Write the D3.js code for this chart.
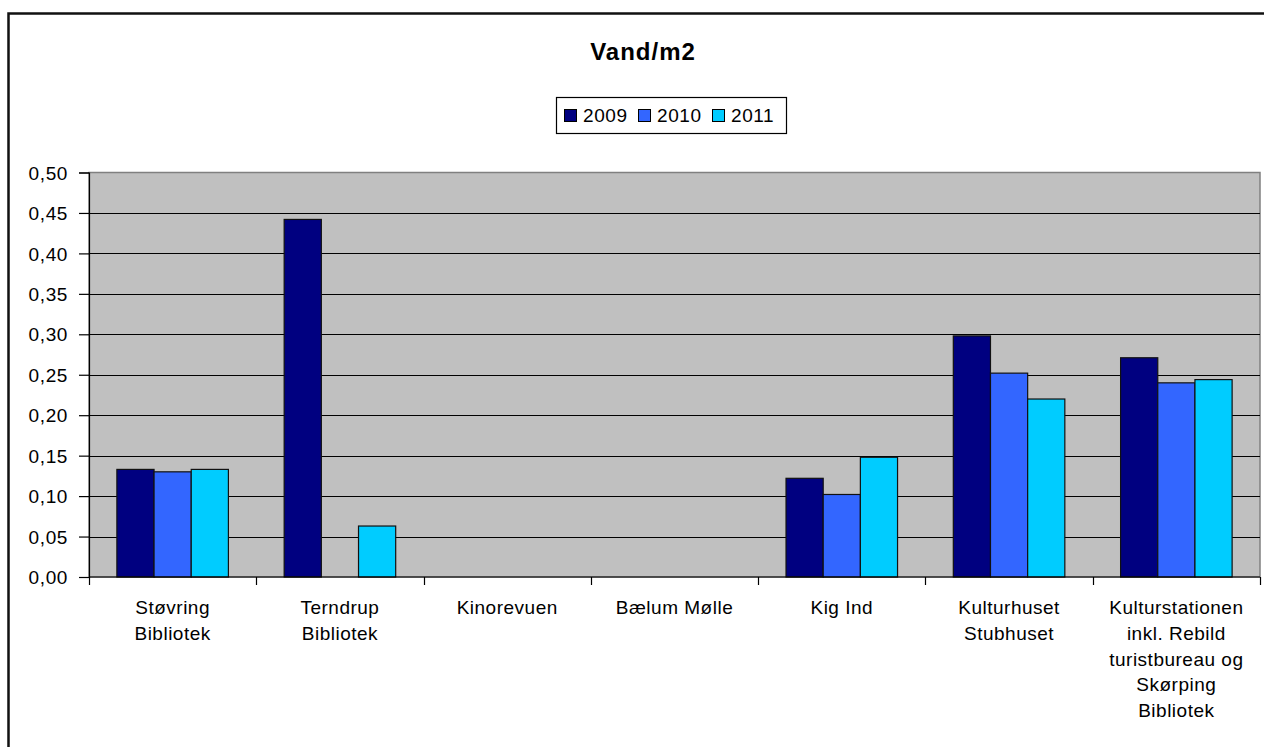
<!DOCTYPE html>
<html>
<head>
<meta charset="utf-8">
<script src="https://cdn.jsdelivr.net/npm/d3@7"></script>
<style>
  body { margin: 0; background: #fff; }
  svg { display: block; font-family: "Liberation Sans", Arial, sans-serif; }
</style>
</head>
<body>
<svg id="chart" width="1264" height="747"></svg>
<script>
// Data
const categories = [
    ["Støvring", "Bibliotek"],
    ["Terndrup", "Bibliotek"],
    ["Kinorevuen"],
    ["Bælum Mølle"],
    ["Kig Ind"],
    ["Kulturhuset", "Stubhuset"],
    ["Kulturstationen", "inkl. Rebild", "turistbureau og", "Skørping", "Bibliotek"]
];
const years = ["2009", "2010", "2011"];
const values2009 = [0.133, 0.442, null, null, 0.122, 0.298, 0.271];
const values2010 = [0.130, null, null, null, 0.102, 0.252, 0.240];
const values2011 = [0.133, 0.063, null, null, 0.148, 0.220, 0.244];
const yTicks = [0, 0.05, 0.10, 0.15, 0.20, 0.25, 0.30, 0.35, 0.40, 0.45, 0.50];
const colors = ["#000080", "#3366FF", "#00CCFF"];
const title = "Vand/m2";

const series = [values2009, values2010, values2011];

const svg = d3.select('#chart');

// plot area
const plotLeft = 89, plotRight = 1260, plotTop = 172.5, plotBottom = 577;

const x = d3.scaleBand()
    .domain(d3.range(categories.length))
    .range([plotLeft, plotRight])
    .padding(0);

// gap width 150% -> 0.75 of a bar on each side
const xYear = d3.scaleBand()
    .domain(years)
    .range([0, x.bandwidth()])
    .paddingInner(0)
    .paddingOuter(0.75);

const y = d3.scaleLinear()
    .domain([0, 0.5])
    .range([plotBottom, plotTop]);

// outer frame (cut off on the right and bottom)
svg.append('rect')
    .attr('x', 8.5)
    .attr('y', 13.5)
    .attr('width', 1300)
    .attr('height', 800)
    .attr('fill', '#fff')
    .attr('stroke', '#111')
    .attr('stroke-width', 2.5);

// plot background
svg.append('rect')
    .attr('x', plotLeft)
    .attr('y', plotTop)
    .attr('width', plotRight - plotLeft)
    .attr('height', plotBottom - plotTop)
    .attr('fill', '#C0C0C0')
    .attr('stroke', '#808080')
    .attr('stroke-width', 1.5);

// gridlines
svg.append('g')
    .selectAll('line')
    .data(yTicks.filter(t => t > 0 && t < 0.5))
    .join('line')
    .attr('x1', plotLeft)
    .attr('x2', plotRight)
    .attr('y1', d => Math.round(y(d)) + 0.5)
    .attr('y2', d => Math.round(y(d)) + 0.5)
    .attr('stroke', '#000')
    .attr('stroke-width', 1.2);

// bars
years.forEach((yr, i) => {
    svg.append('g')
        .selectAll('rect')
        .data(series[i].map((v, j) => ({ v, j })).filter(d => d.v != null))
        .join('rect')
        .attr('x', d => x(d.j) + xYear(yr))
        .attr('y', d => y(d.v))
        .attr('width', xYear.bandwidth())
        .attr('height', d => y(0) - y(d.v))
        .attr('fill', colors[i])
        .attr('stroke', '#111')
        .attr('stroke-width', 1.2);
});

// y axis
const yAxis = d3.axisLeft(y)
    .tickValues(yTicks)
    .tickSize(10)
    .tickPadding(11)
    .tickFormat(d => d3.format('.2f')(d).replace('.', ','));

const yg = svg.append('g')
    .attr('transform', `translate(${plotLeft},0)`)
    .call(yAxis);
yg.select('.domain').attr('stroke', '#000').attr('stroke-width', 1.2);
yg.selectAll('.tick line').attr('stroke', '#000').attr('stroke-width', 1.2);
yg.selectAll('.tick text')
    .attr('fill', '#000')
    .attr('dy', '0.35em')
    .style('font-size', '19px')
    .style('letter-spacing', '0.6px')
    .style('font-family', '"Liberation Sans", Arial, sans-serif');

// x axis
const xg = svg.append('g');
xg.append('line')
    .attr('x1', plotLeft).attr('x2', plotRight)
    .attr('y1', plotBottom).attr('y2', plotBottom)
    .attr('stroke', '#000').attr('stroke-width', 1.2);
xg.selectAll('line.tick')
    .data(d3.range(categories.length + 1))
    .join('line')
    .attr('class', 'tick')
    .attr('x1', d => Math.round(plotLeft + d * x.step()) + 0.5)
    .attr('x2', d => Math.round(plotLeft + d * x.step()) + 0.5)
    .attr('y1', plotBottom)
    .attr('y2', plotBottom + 8)
    .attr('stroke', '#000')
    .attr('stroke-width', 1.2);

const labels = xg.selectAll('text')
    .data(categories)
    .join('text')
    .attr('x', (d, i) => x(i) + x.bandwidth() / 2)
    .attr('y', 614)
    .attr('text-anchor', 'middle')
    .style('font-size', '19px')
    .style('letter-spacing', '0.5px');
labels.selectAll('tspan')
    .data(d => d)
    .join('tspan')
    .attr('x', function () { return d3.select(this.parentNode).attr('x'); })
    .attr('dy', (d, i) => i === 0 ? 0 : 25.8)
    .text(d => d);

// title
svg.append('text')
    .attr('x', 643)
    .attr('y', 60)
    .attr('text-anchor', 'middle')
    .style('font-size', '24px')
    .style('font-weight', 'bold')
    .style('letter-spacing', '1px')
    .text(title);

// legend
const legend = svg.append('g');
legend.append('rect')
    .attr('x', 556.5).attr('y', 97.5)
    .attr('width', 230).attr('height', 36)
    .attr('fill', '#fff')
    .attr('stroke', '#000')
    .attr('stroke-width', 1.2);

const legendX = [564, 638, 712];
years.forEach((yr, i) => {
    legend.append('rect')
        .attr('x', legendX[i] + 0.5).attr('y', 109.5)
        .attr('width', 12).attr('height', 12)
        .attr('fill', colors[i])
        .attr('stroke', '#000')
        .attr('stroke-width', 1);
    legend.append('text')
        .attr('x', legendX[i] + 19)
        .attr('y', 122)
        .style('font-size', '19px')
        .style('letter-spacing', '0.6px')
        .text(yr);
});
</script>
</body>
</html>
